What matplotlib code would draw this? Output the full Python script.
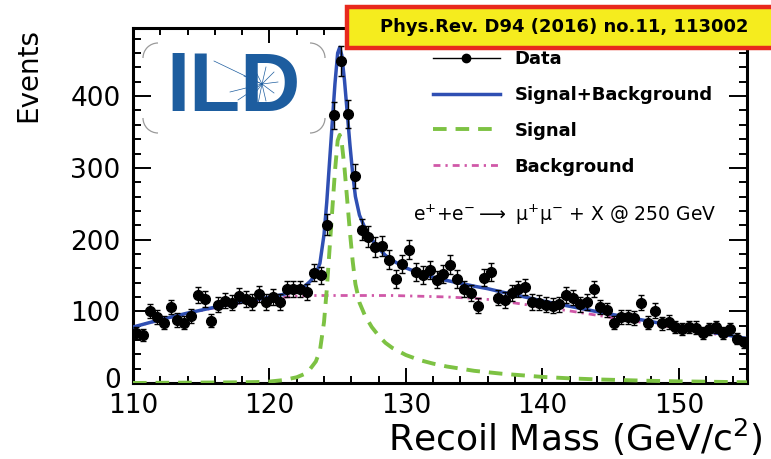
import numpy as np
import matplotlib
matplotlib.use("Agg")
import matplotlib.pyplot as plt
from matplotlib.lines import Line2D
from matplotlib.patches import Rectangle, Arc
from matplotlib.transforms import ScaledTranslation

# ---- measured recoil-mass spectrum (0.5 GeV bins) ----
bin_centers = np.arange(110.25, 155.0, 0.5)
events = [70, 67, 100, 92, 84, 106, 88, 84, 94, 123,
          117, 87, 109, 115, 112, 122, 117, 113, 124, 113,
          120, 113, 131, 131, 131, 127, 154, 150, 221, 373,
          449, 375, 289, 214, 204, 190, 191, 172, 145, 166,
          186, 155, 151, 157, 144, 152, 165, 145, 131, 126,
          108, 147, 155, 119, 116, 126, 131, 134, 113, 112,
          109, 108, 110, 123, 119, 110, 113, 131, 106, 102,
          84, 92, 92, 91, 112, 84, 101, 83, 85, 78,
          75, 78, 77, 70, 75, 78, 70, 75, 62, 57]

# ---- fitted components ----
curve_mass = [110, 112, 114, 116, 118, 119, 120, 121, 122, 122.5,
              123, 123.4, 123.7, 124.0, 124.2, 124.4, 124.6, 124.8, 125.0, 125.15,
              125.3, 125.5, 125.7, 125.9, 126.1, 126.3, 126.6, 127.0, 127.5, 128.0,
              128.5, 129.0, 130, 131, 132, 133, 134, 135, 136, 137,
              138, 140, 142, 144, 146, 148, 150, 152, 154, 155]
signal_fit = [0, 0.3, 0.5, 0.7, 1, 1.3, 2, 4, 8, 12,
              20, 30, 45, 85, 130, 185, 240, 295, 338, 346,
              335, 300, 255, 210, 170, 138, 112, 94, 78, 66,
              56, 49, 39, 32, 27, 23, 20, 17, 15, 13,
              11.5, 8.5, 6.5, 5, 4, 3, 2.3, 1.8, 1.3, 1]
background_fit = [78, 88, 97, 105, 112, 115, 117.5, 119.5, 121, 121.5,
                  122, 122, 122, 122, 122, 122, 122, 122, 122, 122,
                  122, 122, 122, 122, 122, 122, 122, 122, 122, 122,
                  122, 122, 121.5, 121, 120.5, 120, 119, 118, 116.5, 114,
                  111.5, 106, 100.5, 94.5, 88.5, 82.5, 76.5, 70.5, 64, 61]

x_ticks = [110, 120, 130, 140, 150]
y_ticks = [0, 100, 200, 300, 400]

BLUE = "#2f4fb3"
GREEN = "#7dc243"
MAGENTA = "#d058a8"
LOGO_BLUE = "#1d5d9f"

plt.rcParams["font.family"] = ["DejaVu Sans"]

W, H = 771, 459
fig = plt.figure(figsize=(W / 100, H / 100), dpi=100)
fig.patch.set_facecolor("white")


def fx(px):
    return px / W


def fy(py):
    return 1 - py / H


ax = fig.add_axes([fx(133), fy(383), fx(747) - fx(133), fy(28) - fy(383)])

sig = np.array(signal_fit)
bkg = np.array(background_fit)
ax.plot(curve_mass, bkg, color=MAGENTA, lw=2.0, dashes=(2.5, 1.8, 0.8, 1.8),
        label="Background", zorder=2)
ax.plot(curve_mass, sig, color=GREEN, lw=2.8, dashes=(3.5, 2.3),
        label="Signal", zorder=3)
ax.plot(curve_mass, sig + bkg, color=BLUE, lw=2.5,
        label="Signal+Background", zorder=4)

ev = np.array(events, dtype=float)
ax.errorbar(bin_centers, ev, yerr=np.sqrt(ev), fmt="o", color="black",
            ms=7, elinewidth=1.0, capsize=2.4, capthick=1.0, zorder=5)

ax.set_xlim(110, 155)
ax.set_ylim(0, 495)
ax.set_xticks(x_ticks)
ax.set_yticks(y_ticks)
ax.set_xticks(np.arange(110, 156, 2), minor=True)
ax.set_yticks(np.arange(0, 495, 20), minor=True)
ax.tick_params(which="both", direction="in", top=True, right=True,
               width=1.4, labelsize=19, colors="black")
ax.tick_params(axis="x", which="major", length=11, pad=7)
ax.tick_params(axis="x", which="minor", length=5)
ax.tick_params(axis="y", which="major", length=13, pad=9)
ax.tick_params(axis="y", which="minor", length=6)
for s in ax.spines.values():
    s.set_linewidth(2.2)

# lift the "0" label a little so it clears the first mass label
zero_label = ax.yaxis.get_major_ticks()[0].label1
zero_label.set_transform(zero_label.get_transform()
                         + ScaledTranslation(0, 5 / 100, fig.dpi_scale_trans))

# axis titles
fig.text(fx(763), fy(451), "Recoil Mass (GeV/c$^2$)", ha="right", va="baseline",
         fontsize=26)
fig.text(fx(28), fy(28), "Events", rotation=90, ha="center", va="top",
         fontsize=20)

# process annotation
fig.text(fx(413), fy(215),
         "e$^{+}$+e$^{-}$$\\longrightarrow$ \u03bc$^{+}$\u03bc$^{-}$ + X @ 250 GeV",
         ha="left", va="center", fontsize=13.5)

# legend
data_handle = Line2D([], [], color="black", lw=1.0, marker="o", ms=6)
handles = [data_handle] + [ax.lines[2], ax.lines[1], ax.lines[0]]
labels = ["Data", "Signal+Background", "Signal", "Background"]
fig.legend(handles, labels, loc="upper left",
           bbox_to_anchor=(fx(433), fy(50)), frameon=False,
           prop={"weight": "bold", "size": 13}, handlelength=3.7,
           handletextpad=0.8, labelspacing=0.99, borderpad=0,
           borderaxespad=0)

# reference banner
fig.patches.append(Rectangle((fx(347), fy(48)), fx(800) - fx(347), fy(7) - fy(48),
                             transform=fig.transFigure, facecolor="#f5ec1e",
                             edgecolor="#e8291d", lw=3.2, zorder=10))
fig.text(fx(564), fy(27), "Phys.Rev. D94 (2016) no.11, 113002", ha="center",
         va="center", fontsize=13, weight="bold", zorder=11)

# ILD logo: lettering over a small track spray, rounded-corner frame
fig.text(fx(234), fy(89), "ILD", ha="center", va="center", fontsize=60,
         weight="bold", color=LOGO_BLUE, family="Liberation Sans", zorder=6)
spray_origin = (262, 84)
spray_ends = [(214, 61), (230, 92), (238, 100), (247, 104), (258, 104),
              (266, 101), (274, 93), (278, 82), (274, 72), (266, 67), (254, 68),
              (244, 76)]
for ex, ey in spray_ends:
    fig.add_artist(Line2D([fx(spray_origin[0]), fx(ex)],
                          [fy(spray_origin[1]), fy(ey)],
                          transform=fig.transFigure, color=LOGO_BLUE,
                          lw=0.5, zorder=5))
for (cx, cy, t1, t2) in [(158, 58, 90, 180), (310, 58, 0, 90),
                         (158, 118, 180, 270), (310, 118, 270, 360)]:
    fig.patches.append(Arc((fx(cx), fy(cy)), fx(30), 30 / H, theta1=t1, theta2=t2,
                           transform=fig.transFigure, color="#9a9a9a", lw=0.9))

fig.savefig("out.png", dpi=100, facecolor="white")
